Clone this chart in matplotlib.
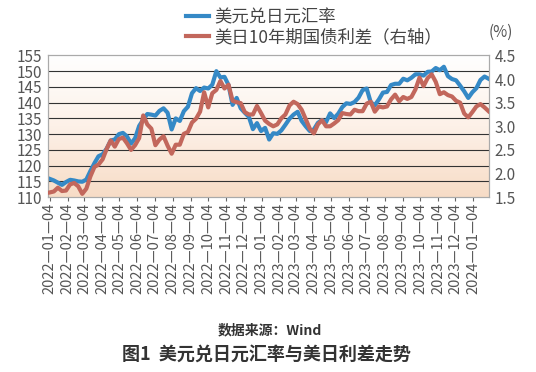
import numpy as np
import pandas as pd
import matplotlib
matplotlib.use('Agg')
import matplotlib.pyplot as plt
from matplotlib.colors import LinearSegmentedColormap

plt.rcParams['font.family'] = ['Noto Sans CJK SC', 'DejaVu Sans']

# weekly observations, 2022-01-04 .. 2024-01-30
dates = pd.date_range('2022-01-04', periods=109, freq='7D')

usdjpy = [115.8, 115.3, 114.6, 113.9, 114.8, 115.5, 115.3, 115.0, 114.9, 115.6,
          118.3, 120.8, 123.0, 123.6, 125.4, 128.0, 128.3, 130.0, 130.4, 129.3,
          127.0, 128.7, 132.6, 134.6, 136.4, 136.2, 135.9, 137.4, 138.2, 136.8,
          131.5, 135.0, 134.2, 137.3, 138.7, 143.0, 144.6, 143.7, 144.8, 144.5,
          145.7, 150.0, 148.0, 148.2, 145.6, 139.3, 141.5, 138.2, 136.8, 135.5,
          131.6, 133.5, 131.0, 132.0, 128.3, 130.3, 130.1, 131.2, 133.0, 134.9,
          136.2, 137.1, 134.2, 132.5, 131.0, 131.5, 133.6, 134.5, 133.8, 136.6,
          135.1, 136.5, 138.6, 139.8, 139.6, 140.2, 141.6, 144.0, 144.5, 140.1,
          139.2, 141.0, 143.2, 143.4, 145.6, 146.0, 146.0, 147.6, 147.1, 147.9,
          149.0, 149.0, 148.6, 149.8, 149.9, 151.0, 150.3, 151.4, 148.4, 147.5,
          147.1, 145.4, 143.6, 141.5, 143.3, 144.6, 147.2, 148.3, 147.6]

spread = [1.60, 1.62, 1.70, 1.63, 1.64, 1.77, 1.80, 1.73, 1.57, 1.68,
          1.94, 2.14, 2.19, 2.30, 2.52, 2.70, 2.57, 2.73, 2.76, 2.64,
          2.50, 2.60, 2.75, 3.23, 3.04, 2.95, 2.60, 2.72, 2.79, 2.59,
          2.42, 2.61, 2.61, 2.84, 2.88, 3.08, 3.16, 3.31, 3.72, 3.40,
          3.70, 3.77, 3.96, 3.80, 3.88, 3.54, 3.51, 3.49, 3.30, 3.25,
          3.25, 3.43, 3.28, 3.12, 3.05, 3.00, 3.04, 3.17, 3.25, 3.44,
          3.52, 3.47, 3.35, 3.15, 2.95, 2.85, 3.04, 3.13, 3.00, 3.00,
          3.06, 3.13, 3.28, 3.26, 3.25, 3.35, 3.32, 3.32, 3.48, 3.52,
          3.31, 3.42, 3.40, 3.42, 3.57, 3.67, 3.53, 3.62, 3.58, 3.62,
          3.78, 4.03, 3.85, 4.02, 4.10, 3.94, 3.68, 3.72, 3.66, 3.63,
          3.54, 3.50, 3.27, 3.19, 3.30, 3.42, 3.47, 3.40, 3.32]

tick_dates = pd.date_range('2022-01-01', periods=25, freq='MS') + pd.Timedelta(days=3)
tick_labels = [d.strftime('%Y—%m—%d') for d in tick_dates]

blue = '#3589c6'
red = '#c2675c'
txt = '#555555'

fig = plt.figure(figsize=(5.36, 3.72), dpi=100)
ax = fig.add_axes([0.0896, 0.470, 0.823, 0.381])
ax2 = ax.twinx()

# background gradient white -> peach
cmap = LinearSegmentedColormap.from_list('bg', ['#f7dcc6', '#fdf1e8', '#ffffff'])
grad = np.linspace(0, 1, 256).reshape(-1, 1)
ax.imshow(grad, cmap=cmap, origin='lower', extent=[0, 1, 0, 1],
          transform=ax.transAxes, aspect='auto', zorder=0)

ax.plot(dates, usdjpy, color=blue, lw=3.0, zorder=3)
ax2.plot(dates, spread, color=red, lw=3.0, zorder=3)

ax.set_ylim(110, 155)
ax.set_yticks(np.arange(110, 156, 5))
ax2.set_ylim(1.5, 4.5)
ax2.set_yticks(np.arange(1.5, 4.51, 0.5))
ax2.set_yticklabels(['%.1f' % v for v in np.arange(1.5, 4.51, 0.5)])
ax.set_xlim(pd.Timestamp('2022-01-01'), pd.Timestamp('2024-01-31'))

for y in np.arange(115, 155, 5):
    ax.axhline(y, color='#333333', lw=0.8, zorder=1)

ax.set_xticks(tick_dates)
ax.set_xticklabels(tick_labels, rotation=90, fontsize=10.5, color=txt)
ax.tick_params(axis='x', length=3, width=0.8, color='#666666', pad=1)
ax.tick_params(axis='y', length=0, labelsize=11, labelcolor=txt, pad=4)
ax2.tick_params(axis='y', length=0, labelsize=11, labelcolor=txt, pad=4)

for a in (ax, ax2):
    for s in a.spines.values():
        s.set_color('#aaaaaa')
        s.set_linewidth(0.8)

fig.text(0.912, 0.912, '(%)', fontsize=11, color=txt, ha='left', va='center')

h1, = ax.plot([], [], color=blue, lw=3.0)
h2, = ax.plot([], [], color=red, lw=3.0)
fig.legend([h1, h2], ['美元兑日元汇率', '美日10年期国债利差（右轴）'],
           loc='upper left', bbox_to_anchor=(0.325, 1.01), frameon=False,
           fontsize=12.5, labelcolor='#444444', handlelength=1.3,
           handletextpad=0.3, labelspacing=0.1, borderpad=0.2)

fig.text(0.503, 0.112, '数据来源：Wind', fontsize=10, fontweight='bold',
         color='#333333', ha='center', va='center')
fig.text(0.497, 0.048, '图1  美元兑日元汇率与美日利差走势', fontsize=13,
         fontweight='bold', color='#333333', ha='center', va='center')

fig.savefig('out.png', dpi=100)
